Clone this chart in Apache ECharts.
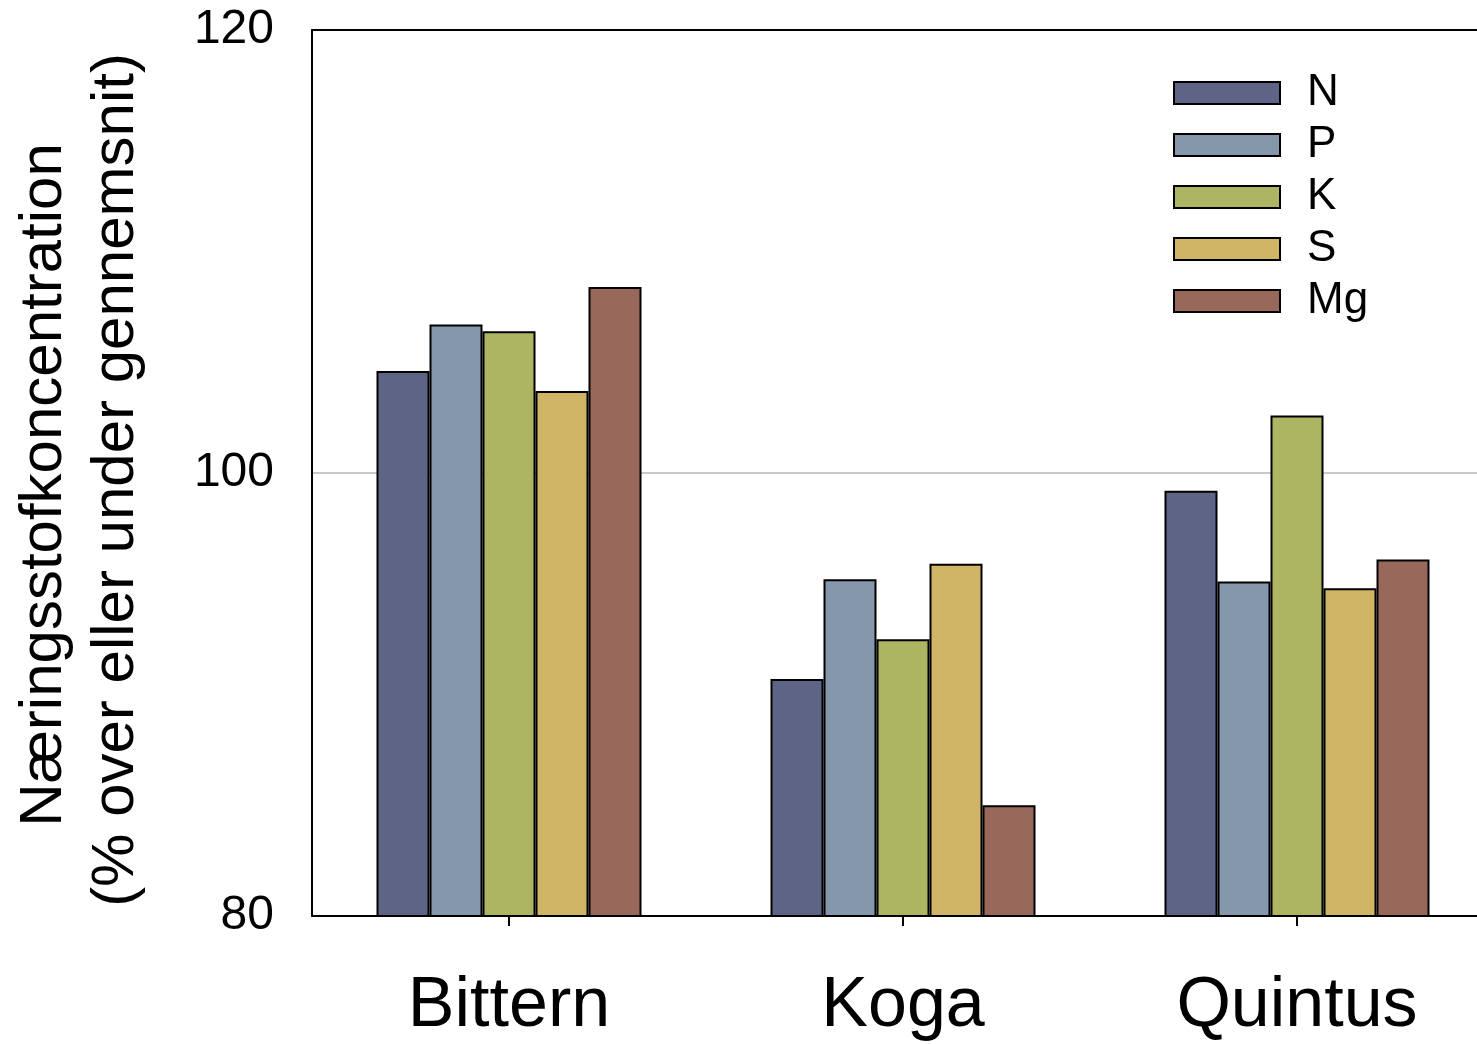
<!DOCTYPE html>
<html>
<head>
<meta charset="utf-8">
<script src="https://cdn.jsdelivr.net/npm/echarts@6/dist/echarts.min.js"></script>
<style>html,body{margin:0;padding:0;background:#fff;}#c{width:1477px;height:1044px;}</style>
</head>
<body>
<div id="c"></div>
<script>
const categories = ['Bittern', 'Koga', 'Quintus'];
const seriesNames = ['N', 'P', 'K', 'S', 'Mg'];
const N  = [104.6, 90.7, 99.2];
const P  = [106.7, 95.2, 95.1];
const K  = [106.4, 92.5, 102.6];
const S  = [103.7, 95.9, 94.8];
const Mg = [108.4, 85.0, 96.1];
const yTicks = [80, 100, 120];
const colors = ['#5e6485', '#8597ab', '#adb562', '#cfb565', '#98695a'];
const yTitle1 = 'Næringsstofkoncentration';
const yTitle2 = '(% over eller under gennemsnit)';

const values = [N, P, K, S, Mg];
const font = '"Liberation Sans", Arial, sans-serif';

const chart = echarts.init(document.getElementById('c'), null, {renderer: 'canvas'});
chart.setOption({
  animation: false,
  backgroundColor: '#fff',
  grid: {left: 312, width: 1182, top: 30, bottom: 128, outerBoundsMode: 'none', containLabel: false},
  legend: {
    orient: 'vertical',
    left: 1168, top: 66,
    itemWidth: 106, itemHeight: 22, itemGap: 8,
    icon: 'rect',
    data: seriesNames,
    textStyle: {fontFamily: font, fontSize: 44, color: '#000', padding: [0, 0, 0, 22]}
  },
  xAxis: [{
    type: 'category',
    data: categories,
    axisLine: {lineStyle: {color: '#000', width: 2}},
    axisTick: {show: true, alignWithLabel: true, length: 10, lineStyle: {color: '#000', width: 2}},
    axisLabel: {fontFamily: font, fontSize: 70, color: '#000', margin: 56},
    splitLine: {show: false}
  }, {
    type: 'category',
    position: 'top',
    data: categories,
    axisLine: {show: true, lineStyle: {color: '#000', width: 2}},
    axisTick: {show: false},
    axisLabel: {show: false}
  }],
  yAxis: {
    type: 'value',
    min: yTicks[0], max: yTicks[yTicks.length - 1], interval: 20,
    axisLine: {show: true, lineStyle: {color: '#000', width: 2}},
    axisTick: {show: false},
    axisLabel: {fontFamily: font, fontSize: 48, color: '#000', margin: 38},
    splitLine: {show: true, lineStyle: {color: '#c8c8c8', width: 2}}
  },
  graphic: [
    {type: 'text', x: 44, y: 485, rotation: Math.PI / 2,
     style: {text: yTitle1, font: '60px ' + font, fill: '#000', textAlign: 'center', textVerticalAlign: 'middle'}},
    {type: 'text', x: 116, y: 480, rotation: Math.PI / 2,
     style: {text: yTitle2, font: '60px ' + font, fill: '#000', textAlign: 'center', textVerticalAlign: 'middle'}}
  ],
  series: seriesNames.map((name, i) => ({
    name: name,
    type: 'bar',
    data: values[i],
    barWidth: 53,
    barGap: '0%',
    itemStyle: {color: colors[i], borderColor: '#000', borderWidth: 2}
  }))
});
</script>
</body>
</html>
